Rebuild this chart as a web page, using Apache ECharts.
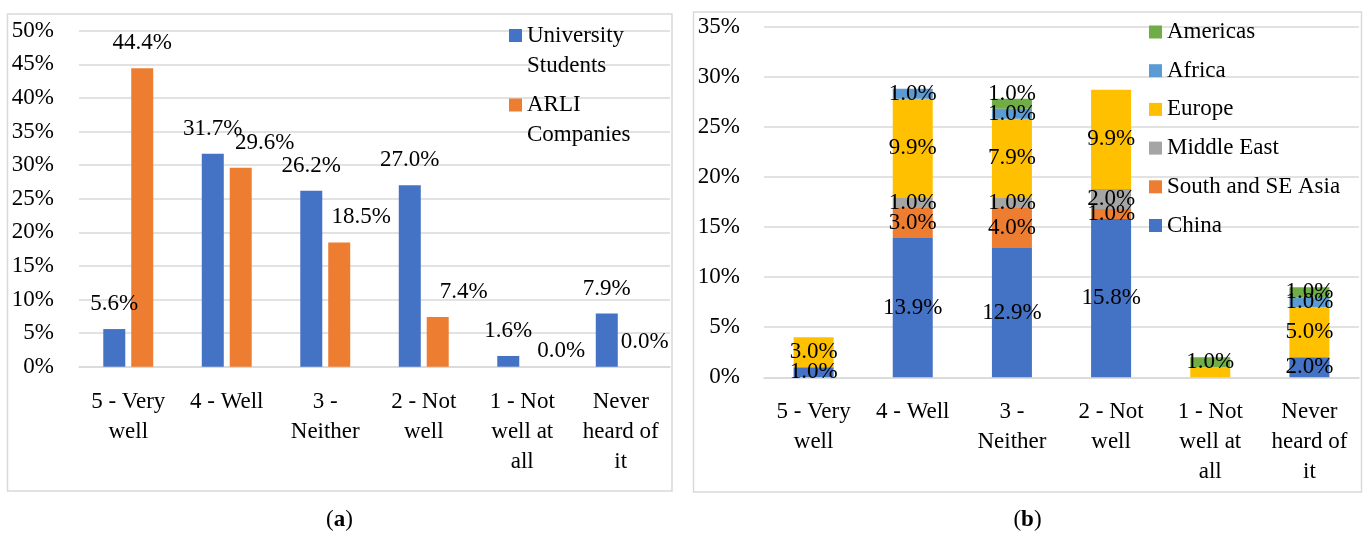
<!DOCTYPE html>
<html><head><meta charset="utf-8">
<script src="https://cdn.jsdelivr.net/npm/echarts@6/dist/echarts.min.js"></script>
<style>html,body{margin:0;padding:0;background:#fff}#c{width:1371px;height:533px}</style>
</head><body><div id="c"></div>
<script>
// ---- data ----
const categories = ['5 - Very\nwell', '4 - Well', '3 -\nNeither', '2 - Not\nwell', '1 - Not\nwell at\nall', 'Never\nheard of\nit'];
const seriesNamesA = ['University\nStudents', 'ARLI\nCompanies'];
const studentsA = [5.6, 31.7, 26.2, 27.0, 1.6, 7.9];
const arliA = [44.4, 29.6, 18.5, 7.4, 0.0, 0.0];

const regionNames = ['China', 'South and SE Asia', 'Middle East', 'Europe', 'Africa', 'Americas'];
const chinaB = [1.0, 13.9, 12.9, 15.8, null, 2.0];
const sseAsiaB = [null, 3.0, 4.0, 1.0, null, null];
const middleEastB = [null, 1.0, 1.0, 2.0, null, null];
const europeB = [3.0, 9.9, 7.9, 9.9, 1.0, 5.0];
const africaB = [null, 1.0, 1.0, null, null, 1.0];
const americasB = [null, null, 1.0, null, 1.0, 1.0];
const panelTags = ['a', 'b'];

// ---- styling ----
const FONT = 'Liberation Serif';
const FS = 23;
const GRIDC = '#d9d9d9';
const colorsB = ['#4472C4', '#ED7D31', '#A5A5A5', '#FFC000', '#5B9BD5', '#70AD47'];
const fmt = p => (p.value == null ? '' : Number(p.value).toFixed(1) + '%');

// label adjustments (Excel manually-moved labels)
const labelAdjA = [
  {},
  { 1: { offset: [24, 0] }, 2: { offset: [22, 0] }, 3: { offset: [26, 0] }, 4: { offset: [25, 9] }, 5: { offset: [10, 0] } }
];
const labelAdjB = { 3: { 4: { show: false } }, 5: { 2: { offset: [0, -10] } } };

const valuesA = [studentsA, arliA];
const colorsA = ['#4472C4', '#ED7D31'];
const valuesB = [chinaB, sseAsiaB, middleEastB, europeB, africaB, americasB];

const txt = { fontFamily: FONT, fontSize: FS, color: '#000' };

const series = [];
valuesA.forEach((vals, s) => {
  series.push({
    type: 'bar', name: seriesNamesA[s], xAxisIndex: 0, yAxisIndex: 0,
    barWidth: 22, barGap: '27%',
    itemStyle: { color: colorsA[s] },
    label: Object.assign({ show: true, position: 'top', distance: 14, formatter: fmt, lineHeight: 22 }, txt),
    data: vals.map((v, i) => labelAdjA[s][i] ? { value: v, label: labelAdjA[s][i] } : v)
  });
});
valuesB.forEach((vals, s) => {
  const adj = labelAdjB[s] || {};
  series.push({
    type: 'bar', name: regionNames[s], xAxisIndex: 1, yAxisIndex: 1, stack: 'b',
    barWidth: 40,
    itemStyle: { color: colorsB[s] },
    label: Object.assign({ show: true, position: 'inside', formatter: fmt, lineHeight: 22 }, txt),
    data: vals.map((v, i) => adj[i] ? { value: v, label: adj[i] } : v)
  });
});

const xAxisCommon = {
  type: 'category', data: categories,
  axisTick: { show: false },
  axisLine: { lineStyle: { color: GRIDC, width: 1.5 } },
  axisLabel: Object.assign({ margin: 20, lineHeight: 30, interval: 0 }, txt)
};
const yAxisCommon = {
  type: 'value', min: 0, interval: 5,
  axisLine: { show: false }, axisTick: { show: false },
  splitLine: { lineStyle: { color: GRIDC, width: 1.5 } },
  axisLabel: Object.assign({ formatter: '{value}%' }, txt)
};

const legendA = (name, top) => ({
  data: [name], orient: 'vertical', left: 509, top: top, padding: 0,
  itemWidth: 13, itemHeight: 13, icon: 'rect', selectedMode: false,
  formatter: n => '\n' + n,
  textStyle: Object.assign({ lineHeight: 30 }, txt)
});

const tagText = (t, x) => ({
  type: 'text', x: x, y: 520, silent: true,
  style: {
    text: '{n|(}{b|' + t + '}{n|)}',
    align: 'center', verticalAlign: 'middle', textAlign: 'center', textVerticalAlign: 'middle',
    rich: {
      n: { fontFamily: FONT, fontSize: FS, fill: '#000', color: '#000' },
      b: { fontFamily: FONT, fontSize: FS, fontWeight: 'bold', fill: '#000', color: '#000' }
    }
  }
});

const option = {
  animation: false,
  backgroundColor: '#fff',
  grid: [
    { left: 79, top: 30.7, width: 591, height: 336 },
    { left: 764, top: 26.7, width: 595, height: 350.6 }
  ],
  xAxis: [Object.assign({ gridIndex: 0 }, xAxisCommon), Object.assign({ gridIndex: 1 }, xAxisCommon)],
  yAxis: [
    Object.assign({}, yAxisCommon, { gridIndex: 0, max: 50, axisLabel: Object.assign({}, yAxisCommon.axisLabel, { margin: 25 }) }),
    Object.assign({}, yAxisCommon, { gridIndex: 1, max: 35, axisLabel: Object.assign({}, yAxisCommon.axisLabel, { margin: 24 }) })
  ],
  legend: [
    legendA(seriesNamesA[0], -9.5),
    legendA(seriesNamesA[1], 60),
    {
      data: regionNames.slice().reverse(), orient: 'vertical', left: 1149, top: 20, padding: 0,
      itemWidth: 13, itemHeight: 13, itemGap: 14.7, icon: 'rect', selectedMode: false,
      textStyle: Object.assign({ lineHeight: 24 }, txt)
    }
  ],
  graphic: [
    { type: 'rect', silent: true, z: -10, shape: { x: 7.5, y: 14, width: 664.5, height: 477 }, style: { fill: 'none', stroke: GRIDC, lineWidth: 1.5 } },
    { type: 'rect', silent: true, z: -10, shape: { x: 693.5, y: 12, width: 668, height: 480 }, style: { fill: 'none', stroke: GRIDC, lineWidth: 1.5 } },
    tagText(panelTags[0], 339.5),
    tagText(panelTags[1], 1027.5)
  ],
  series: series
};

const chart = echarts.init(document.getElementById('c'), null, { renderer: 'canvas' });
chart.setOption(option);
</script>
</body></html>
